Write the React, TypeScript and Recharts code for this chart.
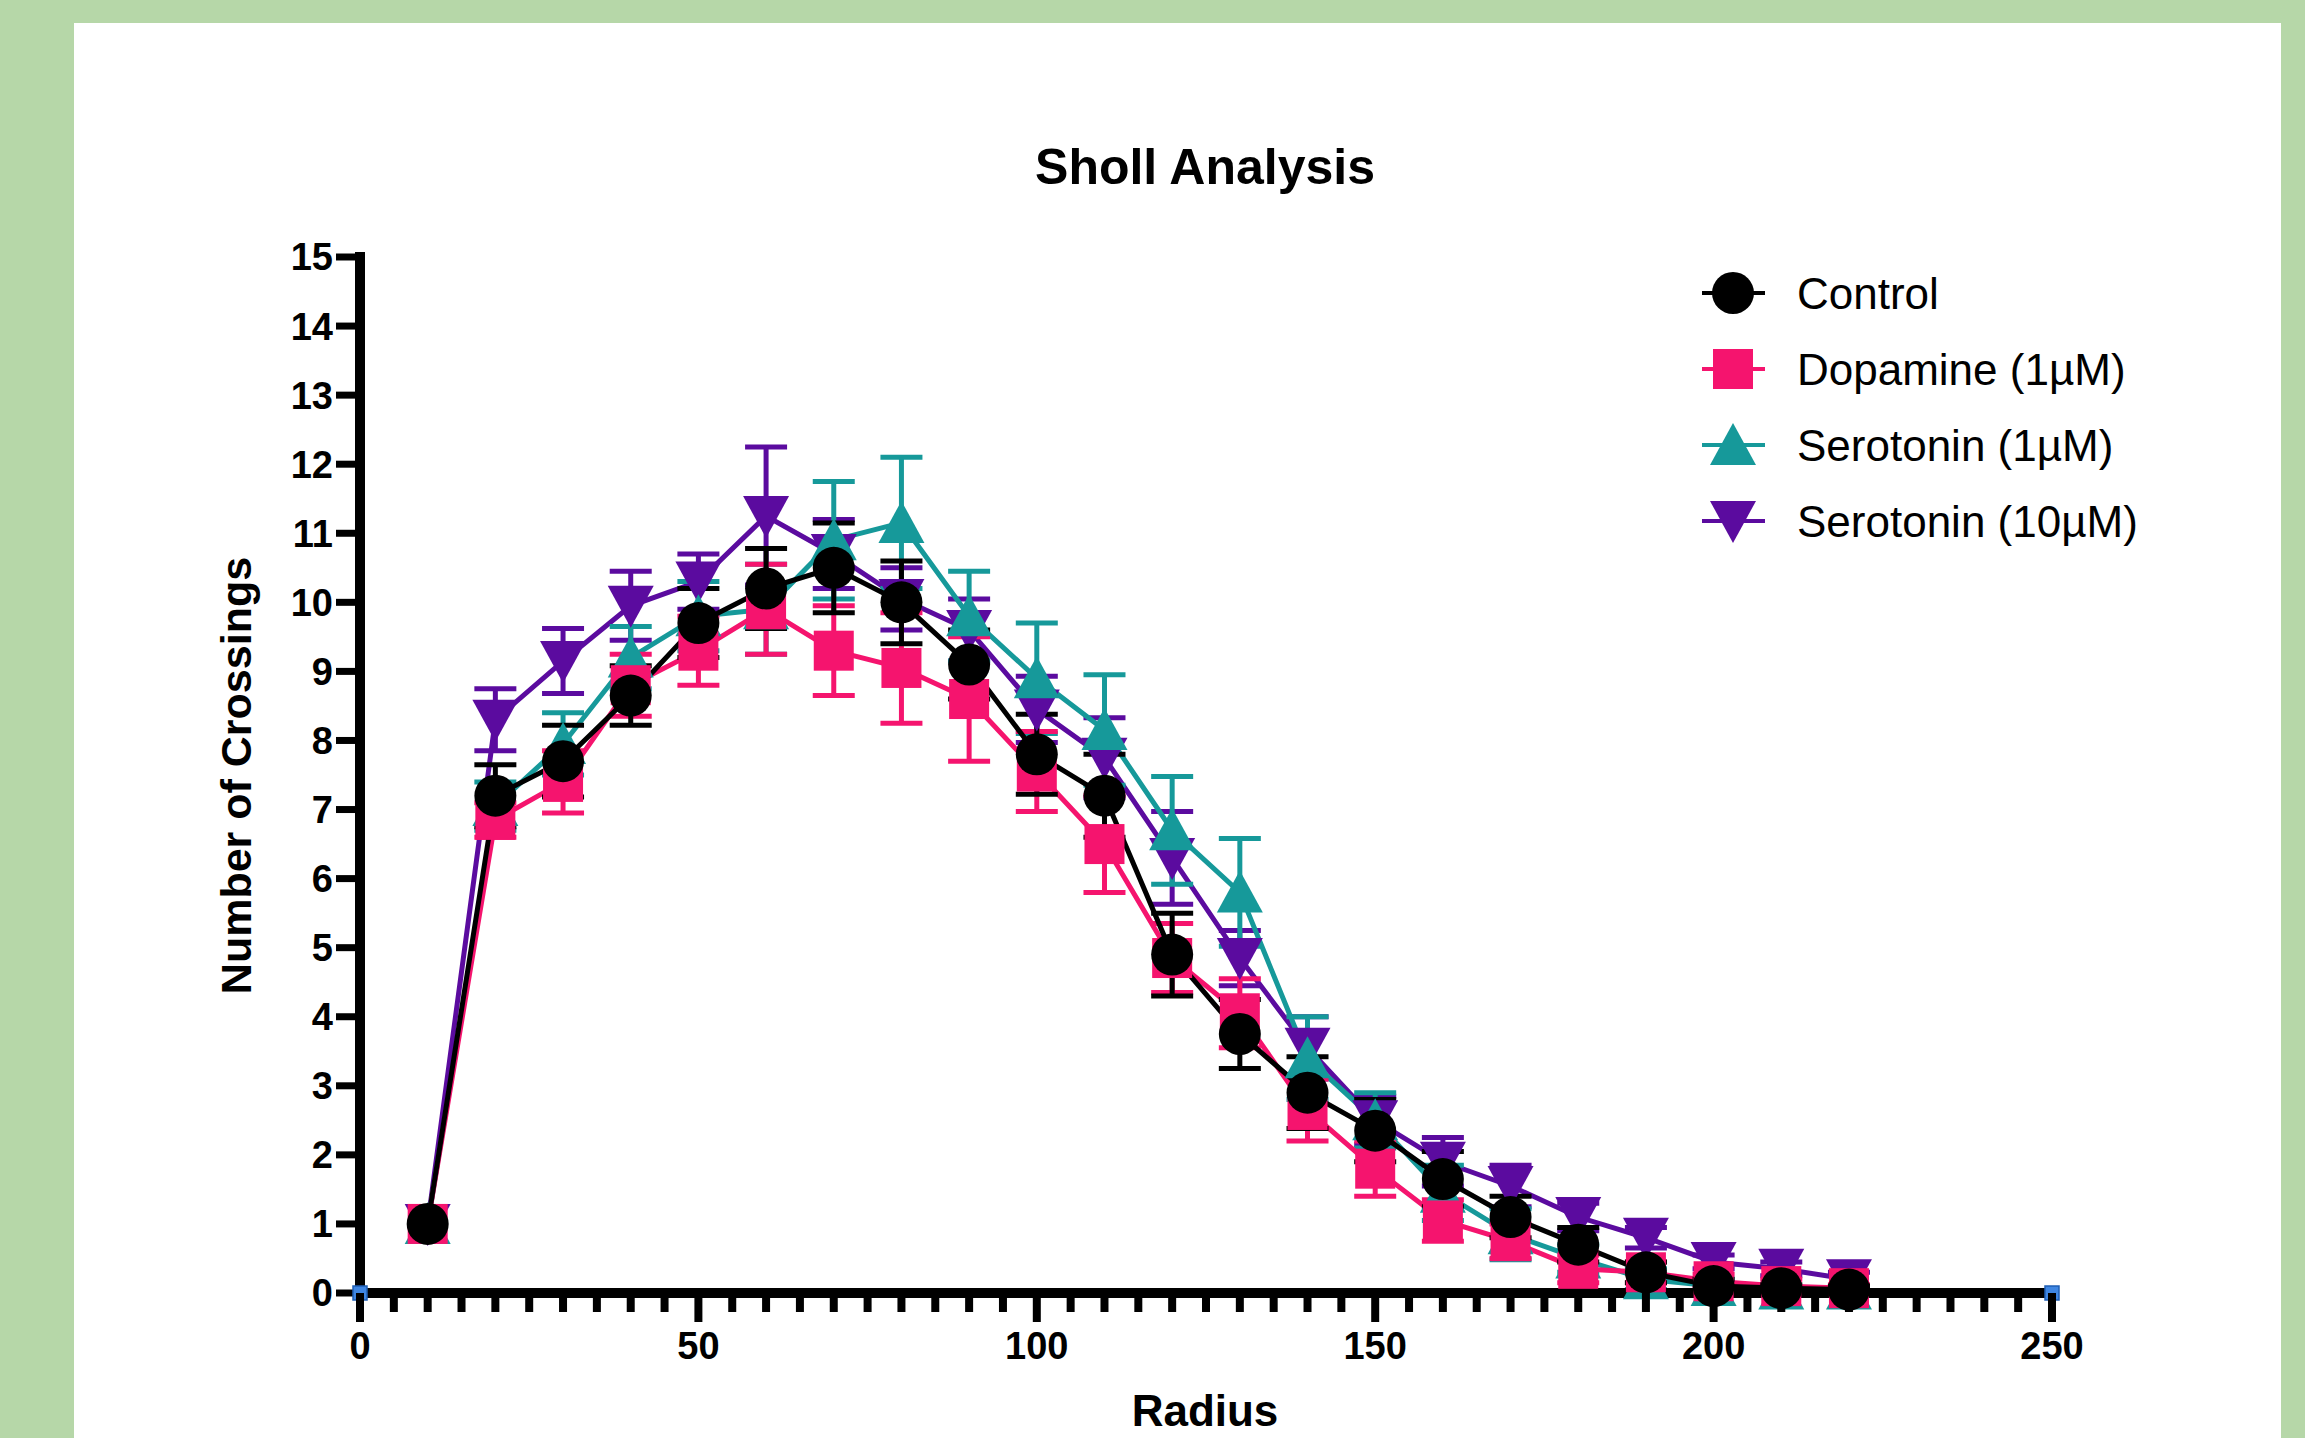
import React from "react";
import { ComposedChart, Line, XAxis, YAxis, ErrorBar, ReferenceDot } from "recharts";

// Sholl analysis: mean crossings per radius, with SEM
const radius = [10, 20, 30, 40, 50, 60, 70, 80, 90, 100, 110, 120, 130, 140, 150, 160, 170, 180, 190, 200, 210, 220];

const control = [1.0, 7.2, 7.7, 8.65, 9.7, 10.2, 10.5, 10.0, 9.1, 7.8, 7.2, 4.9, 3.75, 2.9, 2.35, 1.65, 1.1, 0.7, 0.3, 0.1, 0.07, 0.05];
const controlSem = [0, 0.45, 0.52, 0.43, 0.5, 0.58, 0.65, 0.6, 0.5, 0.58, 0.6, 0.6, 0.5, 0.52, 0.45, 0.4, 0.3, 0.25, 0.15, 0.1, 0.05, 0.05];

const dopamine = [1.0, 6.85, 7.4, 8.8, 9.3, 9.9, 9.3, 9.05, 8.6, 7.55, 6.5, 4.85, 4.05, 2.65, 1.8, 1.05, 0.75, 0.35, 0.3, 0.17, 0.1, 0.07];
const dopamineSem = [0, 0.25, 0.45, 0.45, 0.5, 0.65, 0.65, 0.8, 0.9, 0.58, 0.7, 0.5, 0.5, 0.45, 0.4, 0.3, 0.25, 0.2, 0.15, 0.1, 0.1, 0.05];

const serotonin1 = [1.0, 7.05, 7.95, 9.2, 9.8, 9.9, 10.9, 11.15, 9.8, 8.9, 8.15, 6.7, 5.8, 3.4, 2.5, 1.45, 0.85, 0.5, 0.2, 0.1, 0.05, 0.05];
const serotonin1Sem = [0, 0.35, 0.45, 0.45, 0.5, 0.65, 0.85, 0.95, 0.65, 0.8, 0.8, 0.78, 0.78, 0.6, 0.4, 0.4, 0.37, 0.2, 0.15, 0.1, 0.05, 0.05];

const serotonin10 = [1.0, 8.3, 9.15, 9.95, 10.3, 11.25, 10.7, 10.05, 9.6, 8.45, 7.75, 6.3, 4.85, 3.55, 2.5, 1.9, 1.55, 1.1, 0.8, 0.45, 0.35, 0.2];
const serotonin10Sem = [0, 0.45, 0.47, 0.5, 0.4, 1.0, 0.5, 0.45, 0.45, 0.48, 0.58, 0.67, 0.4, 0.45, 0.35, 0.35, 0.3, 0.2, 0.15, 0.1, 0.1, 0.1];

const yTicks = [0, 1, 2, 3, 4, 5, 6, 7, 8, 9, 10, 11, 12, 13, 14, 15];
const xMajorTicks = [0, 50, 100, 150, 200, 250];
const xTicks = Array.from({ length: 51 }, (_, i) => i * 5);

const PINK = "#f5146e";
const TEAL = "#16999a";
const PURPLE = "#5b0b9f";
const FONT = "'Liberation Sans', Arial, Helvetica, sans-serif";

const data = radius.map((r, i) => ({
  radius: r,
  control: control[i],
  controlErr: controlSem[i],
  dopamine: dopamine[i],
  dopamineErr: dopamineSem[i],
  serotonin1: serotonin1[i],
  serotonin1Err: serotonin1Sem[i],
  serotonin10: serotonin10[i],
  serotonin10Err: serotonin10Sem[i],
}));

// drawn bottom to top
const series = [
  { key: "serotonin10", name: "Serotonin (10µM)", color: PURPLE, shape: "down" },
  { key: "serotonin1", name: "Serotonin (1µM)", color: TEAL, shape: "up" },
  { key: "dopamine", name: "Dopamine (1µM)", color: PINK, shape: "square" },
  { key: "control", name: "Control", color: "#000", shape: "circle" },
];
const legendOrder = ["control", "dopamine", "serotonin1", "serotonin10"];

function Marker({ shape, cx, cy, color }: { shape: string; cx: number; cy: number; color: string }) {
  if (shape === "circle") return <circle cx={cx} cy={cy} r={21} fill={color} />;
  if (shape === "square") return <rect x={cx - 20} y={cy - 20} width={40} height={40} fill={color} />;
  if (shape === "up")
    return <polygon points={`${cx},${cy - 22} ${cx + 23},${cy + 20} ${cx - 23},${cy + 20}`} fill={color} />;
  return <polygon points={`${cx},${cy + 22} ${cx + 23},${cy - 20} ${cx - 23},${cy - 20}`} fill={color} />;
}

const XTick = (props: any) => {
  const { x, y, payload } = props;
  const major = xMajorTicks.includes(payload.value);
  return (
    <g>
      <line x1={x} x2={x} y1={y} y2={y + (major ? 29 : 19)} stroke="#000" strokeWidth={8} />
      {major && (
        <text x={x} y={y + 66} textAnchor="middle" fontFamily={FONT} fontWeight="bold" fontSize={38} fill="#000">
          {payload.value}
        </text>
      )}
    </g>
  );
};

const BlueHandle = (props: any) => (
  <rect x={props.cx - 7} y={props.cy - 7} width={14} height={14} fill="#3f86e2" stroke="#1f5fb5" strokeWidth={1.5} />
);

export default function App() {
  return (
    <div style={{ position: "fixed", left: 0, top: 0, width: 2305, height: 1438, background: "#b6d7a8", overflow: "hidden", fontFamily: FONT }}>
      <div style={{ position: "absolute", left: 74, top: 23, width: 2207, height: 1415, background: "#fff" }} />

      <div style={{ position: "absolute", left: 905, top: 142, width: 600, textAlign: "center", fontSize: 50, lineHeight: 1, fontWeight: "bold", color: "#000" }}>
        Sholl Analysis
      </div>
      <div style={{ position: "absolute", left: 905, top: 1391, width: 600, textAlign: "center", fontSize: 44, lineHeight: 0.9, fontWeight: "bold", color: "#000" }}>
        Radius
      </div>
      <div
        style={{
          position: "absolute",
          left: 236 - 350,
          top: 775 - 21.5,
          width: 700,
          height: 43,
          textAlign: "center",
          fontSize: 43,
          lineHeight: 1,
          fontWeight: "bold",
          color: "#000",
          transform: "rotate(-90deg)",
          transformOrigin: "50% 50%",
        }}
      >
        Number of Crossings
      </div>

      <div style={{ position: "absolute", left: 0, top: 0 }}>
        <ComposedChart width={2305} height={1438} data={data} margin={{ top: 257, right: 253, left: 210, bottom: 45 }}>
          <XAxis
            type="number"
            dataKey="radius"
            domain={[0, 250]}
            ticks={xTicks}
            interval={0}
            height={100}
            tickLine={false}
            tickSize={0}
            tickMargin={0}
            tick={<XTick />}
            axisLine={{ stroke: "#000", strokeWidth: 10, strokeLinecap: "square" }}
          />
          <YAxis
            type="number"
            domain={[0, 15]}
            ticks={yTicks}
            interval={0}
            width={150}
            tickSize={24}
            tickMargin={3}
            tickLine={{ stroke: "#000", strokeWidth: 7 }}
            axisLine={{ stroke: "#000", strokeWidth: 10, strokeLinecap: "square" }}
            tick={{ fontFamily: FONT, fontWeight: "bold", fontSize: 38, fill: "#000" }}
          />
          {series.map((s) => (
            <Line
              key={s.key}
              type="linear"
              dataKey={s.key}
              name={s.name}
              stroke={s.color}
              strokeWidth={5}
              isAnimationActive={false}
              activeDot={false}
              dot={(p: any) => <Marker key={`${s.key}-${p.index}`} shape={s.shape} cx={p.cx} cy={p.cy} color={s.color} />}
            >
              <ErrorBar dataKey={`${s.key}Err`} direction="y" width={21} strokeWidth={5} stroke={s.color} />
            </Line>
          ))}
          <ReferenceDot x={0} y={0} r={7} shape={<BlueHandle />} ifOverflow="visible" />
          <ReferenceDot x={250} y={0} r={7} shape={<BlueHandle />} ifOverflow="visible" />
        </ComposedChart>
      </div>

      {legendOrder.map((k, i) => {
        const s = series.find((d) => d.key === k)!;
        const cy = 293 + i * 76;
        return (
          <div key={k} style={{ position: "absolute", left: 1695, top: cy - 30, height: 60, display: "flex", alignItems: "center" }}>
            <svg width={80} height={60} style={{ display: "block" }}>
              <line x1={7} x2={70} y1={30} y2={30} stroke={s.color} strokeWidth={4} />
              <Marker shape={s.shape} cx={38} cy={30} color={s.color} />
            </svg>
            <div style={{ position: "absolute", left: 102, top: 30 - 21.5, fontSize: 44, lineHeight: 1, whiteSpace: "nowrap", color: "#000" }}>
              {s.name}
            </div>
          </div>
        );
      })}
    </div>
  );
}
